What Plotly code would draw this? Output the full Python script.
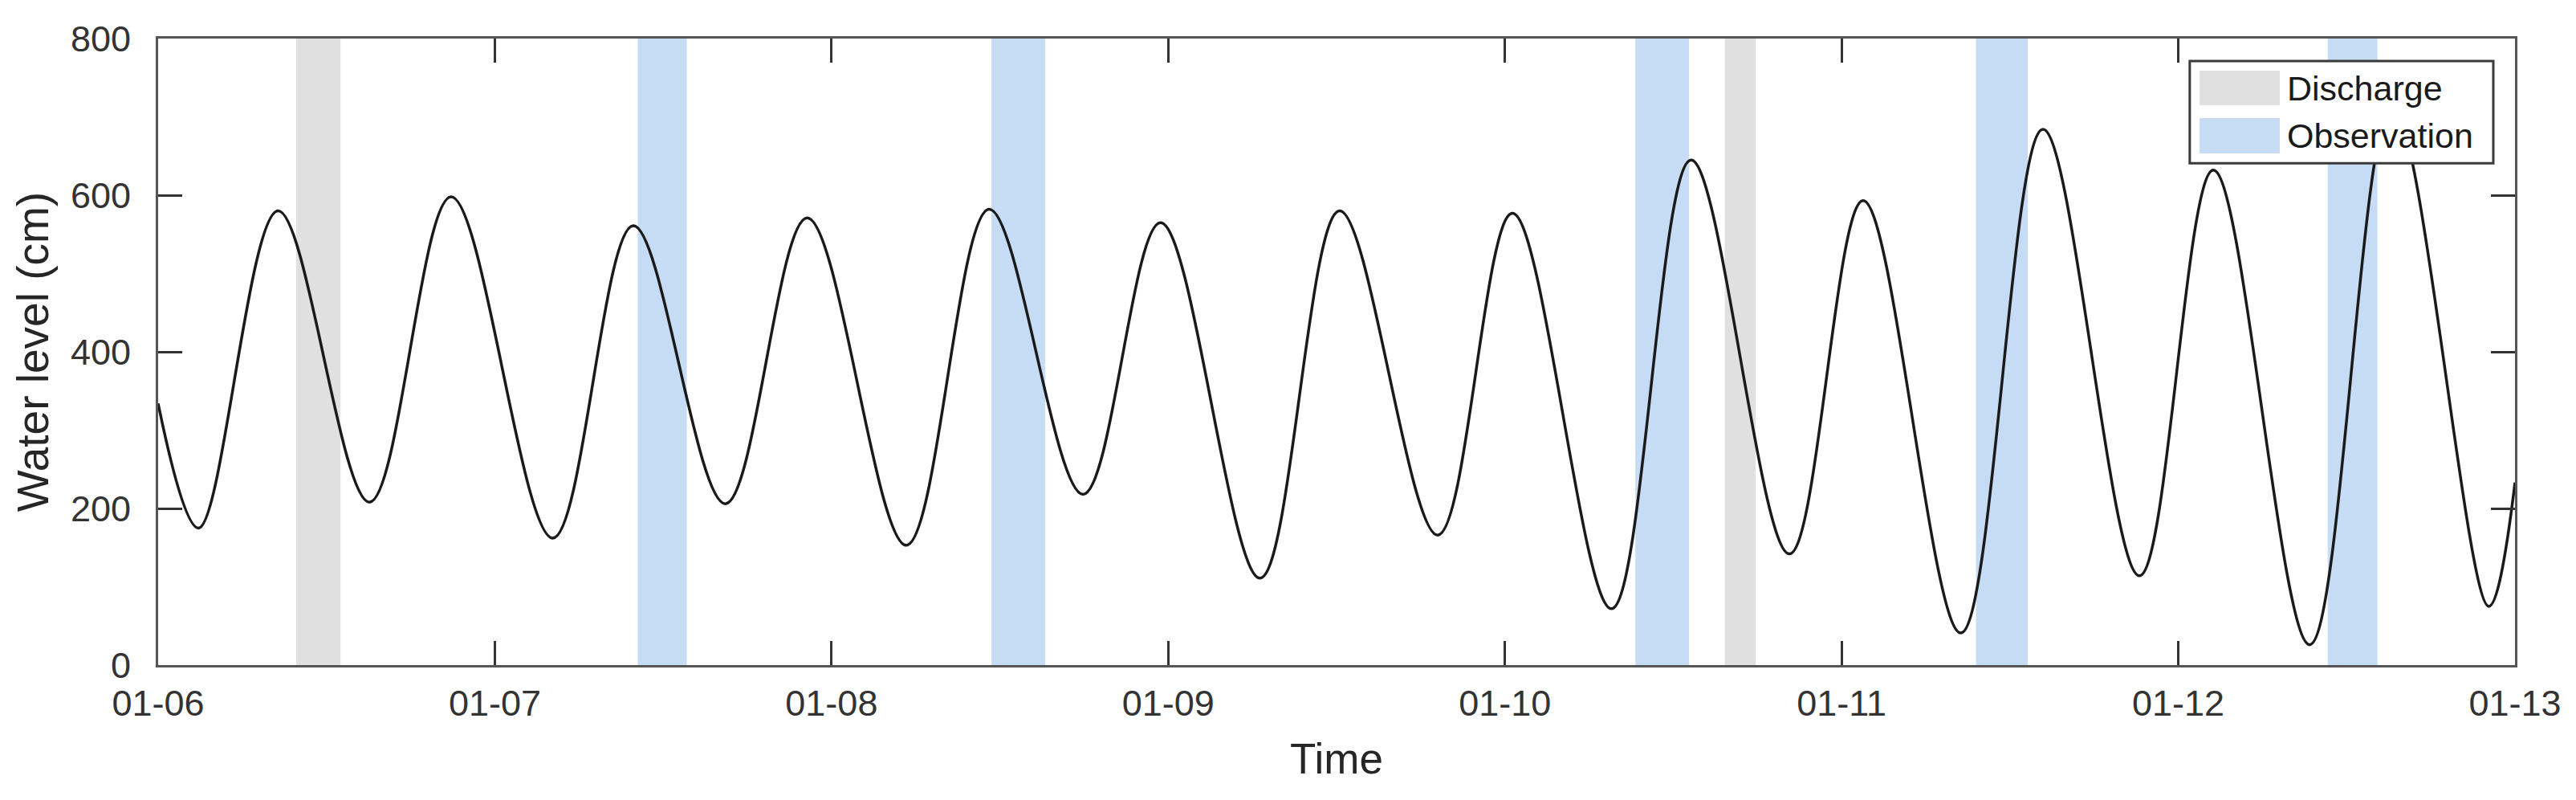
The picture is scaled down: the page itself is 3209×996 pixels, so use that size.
import pandas as pd
import plotly.graph_objects as go

# turning points of the water level curve
level_times = [
    "2023-01-06 00:00", "2023-01-06 02:53", "2023-01-06 08:33", "2023-01-06 15:04",
    "2023-01-06 20:53", "2023-01-07 04:08", "2023-01-07 09:52", "2023-01-07 16:26",
    "2023-01-07 22:16", "2023-01-08 05:20", "2023-01-08 11:14", "2023-01-08 17:56",
    "2023-01-08 23:27", "2023-01-09 06:33", "2023-01-09 12:13", "2023-01-09 19:13",
    "2023-01-10 00:32", "2023-01-10 07:36", "2023-01-10 13:16", "2023-01-10 20:17",
    "2023-01-11 01:32", "2023-01-11 08:30", "2023-01-11 14:21", "2023-01-11 21:14",
    "2023-01-12 02:30", "2023-01-12 09:22", "2023-01-12 15:14", "2023-01-12 22:08",
    "2023-01-13 00:00",
]
level_cm = [
    334, 175, 580, 208,
    598, 162, 561, 206,
    571, 153, 582, 218,
    565, 111, 580, 166,
    577, 72, 645, 142,
    593, 41, 684, 114,
    632, 26, 715, 75,
    233,
]

discharge_start = ["2023-01-06 09:50", "2023-01-10 15:40"]
discharge_end = ["2023-01-06 13:00", "2023-01-10 17:52"]

observation_start = ["2023-01-07 10:11", "2023-01-08 11:24", "2023-01-10 09:18",
                     "2023-01-11 09:35", "2023-01-12 10:39"]
observation_end = ["2023-01-07 13:41", "2023-01-08 15:14", "2023-01-10 13:08",
                   "2023-01-11 13:16", "2023-01-12 14:12"]

x_ticks = ["2023-01-06", "2023-01-07", "2023-01-08", "2023-01-09",
           "2023-01-10", "2023-01-11", "2023-01-12", "2023-01-13"]
y_ticks = [0, 200, 400, 600, 800]

GRAY = "#e0e0e0"
BLUE = "#c6dcf5"
FONT = "Liberation Sans, Arial, sans-serif"

fig = go.Figure()

fig.add_trace(go.Scatter(
    x=pd.to_datetime(level_times),
    y=level_cm,
    mode="lines",
    line=dict(color="#1a1a1a", width=3.5, shape="spline", smoothing=1),
    showlegend=False,
    hoverinfo="skip",
))

shapes = []
for s, e in zip(discharge_start, discharge_end):
    shapes.append(dict(type="rect", xref="x", yref="y", x0=s, x1=e, y0=0, y1=800,
                       fillcolor=GRAY, line_width=0, layer="below"))
for s, e in zip(observation_start, observation_end):
    shapes.append(dict(type="rect", xref="x", yref="y", x0=s, x1=e, y0=0, y1=800,
                       fillcolor=BLUE, line_width=0, layer="below"))

# legend box drawn by hand so the swatches match the original size
shapes.append(dict(type="rect", xref="paper", yref="paper", x0=0.862, x1=0.9908,
                   y0=0.801, y1=0.964, fillcolor="white",
                   line=dict(color="#3a3a3a", width=3), layer="above"))
shapes.append(dict(type="rect", xref="paper", yref="paper", x0=0.8662, x1=0.9002,
                   y0=0.8936, y1=0.9487, fillcolor=GRAY, line_width=0, layer="above"))
shapes.append(dict(type="rect", xref="paper", yref="paper", x0=0.8662, x1=0.9002,
                   y0=0.8167, y1=0.8731, fillcolor=BLUE, line_width=0, layer="above"))

annotations = [
    dict(text="Discharge", xref="paper", yref="paper", x=0.9026, y=0.921,
         xanchor="left", yanchor="middle", showarrow=False,
         font=dict(family=FONT, size=43, color="#1a1a1a")),
    dict(text="Observation", xref="paper", yref="paper", x=0.9026, y=0.845,
         xanchor="left", yanchor="middle", showarrow=False,
         font=dict(family=FONT, size=43, color="#1a1a1a")),
]

axis_common = dict(
    showline=True, linecolor="#555555", linewidth=3, mirror="ticks",
    ticks="inside", ticklen=30, tickwidth=2.5, tickcolor="#333333",
    showgrid=False, zeroline=False, automargin=False,
    tickfont=dict(family=FONT, size=45, color="#333333"),
)

# page body adds an 8px offset, margins compensate for it
fig.update_layout(
    width=3209, height=996,
    margin=dict(l=189, r=84, t=40, b=176),
    plot_bgcolor="white", paper_bgcolor="white",
    shapes=shapes, annotations=annotations,
    xaxis=dict(
        **axis_common,
        range=[x_ticks[0], x_ticks[-1]],
        tickvals=x_ticks, tickformat="%m-%d",
        ticklabelstandoff=6,
        title=dict(text="Time", font=dict(family=FONT, size=53, color="#262626"), standoff=26),
    ),
    yaxis=dict(
        **axis_common,
        range=[0, 800],
        tickvals=y_ticks,
        ticklabelstandoff=22,
        title=dict(text="Water level (cm)", font=dict(family=FONT, size=55, color="#262626"),
                   standoff=10),
    ),
)

fig.write_html("out.html")
